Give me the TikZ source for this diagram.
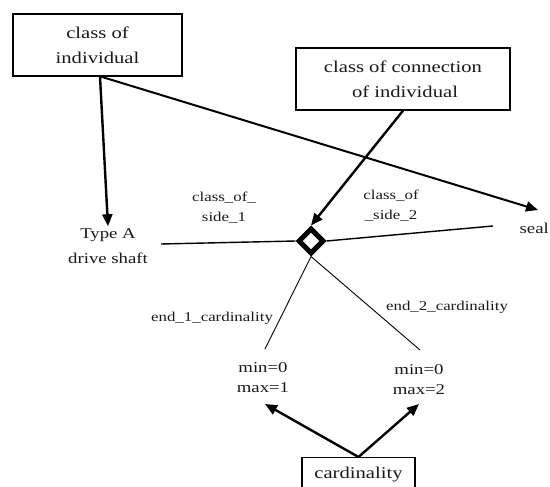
\documentclass[tikz,border=0pt]{standalone}
\usepackage{fontspec}
\setmainfont{Liberation Serif}[FakeStretch=1.25]
\usetikzlibrary{arrows.meta,shapes.geometric}
\begin{document}
\begin{tikzpicture}[x=1pt,y=-1pt,
  txt/.style={text=black!90, align=center, inner sep=2pt},
  bigtxt/.style={txt, font=\fontsize{16.5}{25}\selectfont},
  midtxt/.style={txt, font=\fontsize{15}{21}\selectfont},
  smalltxt/.style={txt, font=\fontsize{13.5}{20}\selectfont},
  box/.style={draw, line width=1.3pt, bigtxt, inner sep=0pt},
  arr/.style={line width=2.4pt, -{Triangle[length=12pt,width=10pt]}},
  rel/.style={line width=1.4pt},
  thin/.style={line width=0.9pt}
]
\useasboundingbox (0,0) rectangle (550,487);

% boxes
\node[box, minimum width=169pt, minimum height=62pt] (coi) at (97.5,45) {class of\\individual};
\node[box, minimum width=214pt, minimum height=62pt] (coc) at (403,79) {class of connection\\\hspace*{4pt}of individual};
\node[box, minimum width=113pt, anchor=north, inner ysep=9pt, text height=12pt, text depth=24pt] (card) at (358.5,457) {cardinality};

% diamond
\node[draw, diamond, line width=5pt, minimum width=26pt, minimum height=26pt, inner sep=0pt] (dia) at (311,241) {};

% plain texts
\node[midtxt, font=\fontsize{15}{25}\selectfont] (typeA) at (108,246) {Type A\\drive shaft};
\node[midtxt, anchor=east, inner sep=0.5pt] (seal) at (549.5,228) {seal};
\node[smalltxt] (l1) at (224,208) {class\_of\_\\side\_1};
\node[smalltxt] (l2) at (391,206) {class\_of\\\_side\_2};
\node[smalltxt] (e1) at (212,318) {end\_1\_cardinality};
\node[smalltxt] (e2) at (447,307) {end\_2\_cardinality};
\node[midtxt, font=\fontsize{15}{20}\selectfont] (m1) at (263,378) {min=0\\max=1};
\node[midtxt, font=\fontsize{15}{20}\selectfont] (m2) at (419,380) {min=0\\max=2};

% free ends
\coordinate (sealtip) at (538,210);
\coordinate (s1) at (161,244);
\coordinate (s2) at (493,226);
\coordinate (c1) at (265,349);
\coordinate (c2) at (420,350);
\coordinate (k1) at (265,404);
\coordinate (k2) at (419,404);

% connectors
\draw[arr] ([xshift=2.5pt]coi.south) -- (typeA.north);
\draw[arr, line width=2pt] ([xshift=3.5pt]coi.south) -- (sealtip);
\draw[arr] (coc.south) -- (dia.north);
\draw[rel] (s1) -- (dia.west);
\draw[rel] (dia.east) -- (s2);
\draw[thin] (dia.south) -- (c1);
\draw[thin] (dia.south) -- (c2);
\draw[arr] (card.north) -- (k1);
\draw[arr] (card.north) -- (k2);
\end{tikzpicture}
\end{document}
